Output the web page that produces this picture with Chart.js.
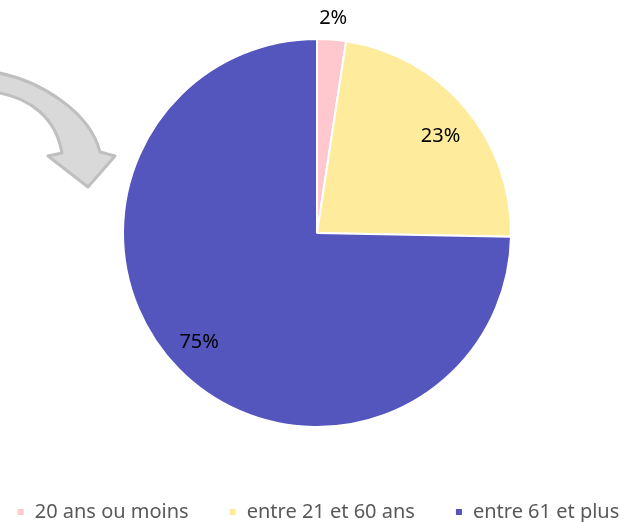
<!DOCTYPE html>
<html>
<head>
<meta charset="utf-8">
<script src="https://cdn.jsdelivr.net/npm/chart.js@4"></script>
<style>
  html, body { margin: 0; padding: 0; background: #fff; overflow: hidden; }
  #wrap { width: 634px; height: 522px; }
</style>
</head>
<body>
<div id="wrap"><canvas id="agePie"></canvas></div>
<script>
// Data
const categories = ['20 ans ou moins', 'entre 21 et 60 ans', 'entre 61 et plus'];
const shares = [2.4, 22.9, 74.7];
const sliceColors = ['#FFC7CE', '#FFEB9C', '#5456BE'];

// Gray curved arrow in the top left corner (decoration only)
const arrowPlugin = {
  id: 'arrow',
  beforeDraw(chart) {
    const ctx = chart.ctx;
    ctx.save();
    ctx.beginPath();
    ctx.moveTo(-6, 72);
    ctx.bezierCurveTo(40, 80, 90, 112, 100, 152);
    ctx.lineTo(115, 156);
    ctx.lineTo(88, 187);
    ctx.lineTo(48, 156);
    ctx.lineTo(62, 153);
    ctx.bezierCurveTo(56, 118, 30, 97, -6, 92);
    ctx.closePath();
    ctx.fillStyle = '#D9D9D9';
    ctx.fill();
    ctx.lineWidth = 3;
    ctx.lineJoin = 'round';
    ctx.strokeStyle = '#BFBFBF';
    ctx.stroke();
    ctx.restore();
  }
};

// Percent labels placed on each slice
const percentLabels = {
  id: 'percentLabels',
  afterDatasetsDraw(chart, args, opts) {
    const ctx = chart.ctx;
    const meta = chart.getDatasetMeta(0);
    const values = chart.data.datasets[0].data;
    const total = values.reduce((a, b) => a + b, 0);
    ctx.save();
    ctx.font = '20px "Noto Sans"';
    ctx.fillStyle = '#000';
    ctx.textAlign = 'center';
    ctx.textBaseline = 'middle';
    meta.data.forEach((arc, i) => {
      const mid = (arc.startAngle + arc.endAngle) / 2 + opts.shift[i] * Math.PI / 180;
      const r = arc.outerRadius * opts.factors[i];
      const x = arc.x + Math.cos(mid) * r;
      const y = arc.y + Math.sin(mid) * r;
      ctx.fillText(Math.round(values[i] / total * 100) + '%', x, y);
    });
    ctx.restore();
  }
};

const ctx = document.getElementById('agePie').getContext('2d');
new Chart(ctx, {
  type: 'pie',
  data: {
    labels: categories,
    datasets: [{
      data: shares,
      backgroundColor: sliceColors,
      borderColor: '#fff',
      borderWidth: 2
    }]
  },
  options: {
    responsive: true,
    maintainAspectRatio: false,
    animation: false,
    radius: 194,
    // negative side padding gives the legend room for one row
    layout: { padding: { top: 4, left: -40, right: -42, bottom: -10 } },
    plugins: {
      tooltip: { enabled: false },
      percentLabels: { factors: [1.108, 0.81, 0.83], shift: [0, 2, 1.5] },
      legend: {
        position: 'bottom',
        labels: {
          boxWidth: 8,
          boxHeight: 8,
          padding: 40,
          color: '#595959',
          font: { family: 'Noto Sans', size: 20 }
        }
      }
    }
  },
  plugins: [arrowPlugin, percentLabels]
});
</script>
</body>
</html>
